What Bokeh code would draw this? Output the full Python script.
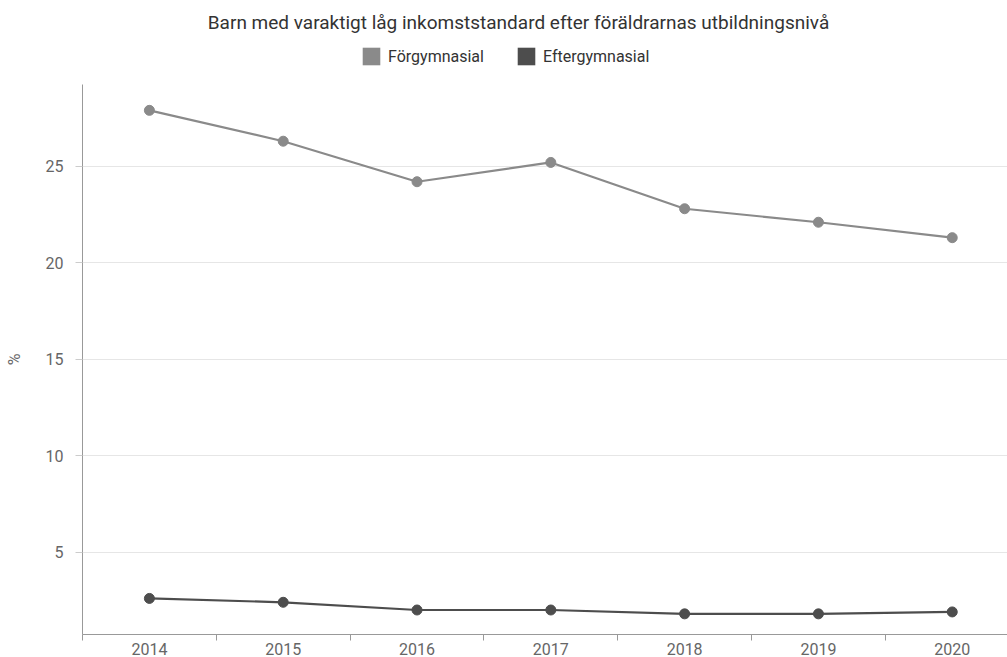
from bokeh.plotting import figure
from bokeh.layouts import column
from bokeh.models import (Range1d, FixedTicker, Legend, LegendItem, ColumnDataSource, Label)
from bokeh.embed import file_html
from bokeh.resources import INLINE

years = [2014, 2015, 2016, 2017, 2018, 2019, 2020]
forgymnasial = [27.9, 26.3, 24.2, 25.2, 22.8, 22.1, 21.3]
eftergymnasial = [2.6, 2.4, 2.0, 2.0, 1.8, 1.8, 1.9]
series_names = ["Förgymnasial", "Eftergymnasial"]
series_colors = ["#8a8a8a", "#4d4d4d"]
y_ticks = [5, 10, 15, 20, 25]
title_text = "Barn med varaktigt låg inkomststandard efter föräldrarnas utbildningsnivå"

FONT = "Roboto"
W = 1007
TOP_H = 84
LEFT = 82

# ---- header: title + legend (frame is aligned with the chart frame below) ----
head = figure(width=W, height=TOP_H, output_backend="svg", toolbar_location=None,
              x_range=Range1d(0, 1), y_range=Range1d(0, 1),
              x_axis_location=None, y_axis_location=None, title_location=None,
              min_border=0)
head.outline_line_color = None
head.xgrid.visible = False
head.ygrid.visible = False
head.add_layout(Label(x=518 - LEFT, y=TOP_H - 22, x_units="screen", y_units="screen",
                      text=title_text, text_align="center", text_baseline="middle",
                      text_font=FONT, text_font_size="19px", text_color="#333333"))

items = []
for name, vals, col in zip(series_names, [forgymnasial, eftergymnasial], series_colors):
    # legend swatch renderer; its data lie outside the header's ranges
    src = ColumnDataSource(dict(x=years, top=vals))
    sw = head.vbar(x="x", top="top", width=0.5, source=src, fill_color=col, line_color=None)
    items.append(LegendItem(label=name, renderers=[sw]))
legend = Legend(items=items, orientation="horizontal", location=(278, 17),
                glyph_width=22, glyph_height=22, label_standoff=6, spacing=31,
                label_height=18, label_text_baseline="middle",
                label_text_font=FONT, label_text_font_size="16px",
                label_text_color="#333333", border_line_color=None,
                background_fill_alpha=0, padding=4, margin=0)
head.add_layout(legend, "center")

# ---- main chart ----
p = figure(width=W, height=657 - TOP_H, output_backend="svg", toolbar_location=None,
           x_range=Range1d(2013.5, 2020.413), y_range=Range1d(0.73, 29.24),
           title_location=None,
           min_border_left=LEFT, min_border_right=0, min_border_bottom=20,
           min_border_top=0)
p.outline_line_color = None

xa = p.xaxis[0]
xa.ticker = FixedTicker(ticks=years, minor_ticks=[y - 0.5 for y in years])
xa.major_tick_out = 0
xa.major_tick_in = 0
xa.minor_tick_out = 6
xa.minor_tick_in = 0
xa.minor_tick_line_color = "#999999"
xa.axis_line_color = "#999999"
xa.major_label_text_font = FONT
xa.major_label_text_font_size = "16px"
xa.major_label_text_color = "#666666"
xa.major_label_standoff = 2
p.xgrid.grid_line_color = None

ya = p.yaxis[0]
ya.ticker = FixedTicker(ticks=y_ticks)
ya.major_tick_out = 7
ya.major_tick_in = 0
ya.minor_tick_line_color = None
ya.major_tick_line_color = "#cccccc"
ya.axis_line_color = "#999999"
ya.major_label_text_font = FONT
ya.major_label_text_font_size = "16px"
ya.major_label_text_color = "#666666"
ya.major_label_standoff = 12
ya.axis_label = "%"
ya.axis_label_text_font = FONT
ya.axis_label_text_font_size = "16px"
ya.axis_label_text_font_style = "normal"
ya.axis_label_text_color = "#666666"
ya.axis_label_standoff = 19
p.ygrid.ticker = FixedTicker(ticks=y_ticks)
p.ygrid.grid_line_color = "#e6e6e6"
p.ygrid.grid_line_width = 1

for vals, col in zip([forgymnasial, eftergymnasial], series_colors):
    src = ColumnDataSource(dict(x=years, y=vals))
    p.line("x", "y", source=src, line_color=col, line_width=2.2)
    p.scatter("x", "y", source=src, size=10, fill_color=col, line_color=col)

layout = column(head, p, spacing=0)
open("out.html", "w").write(file_html(layout, INLINE))
